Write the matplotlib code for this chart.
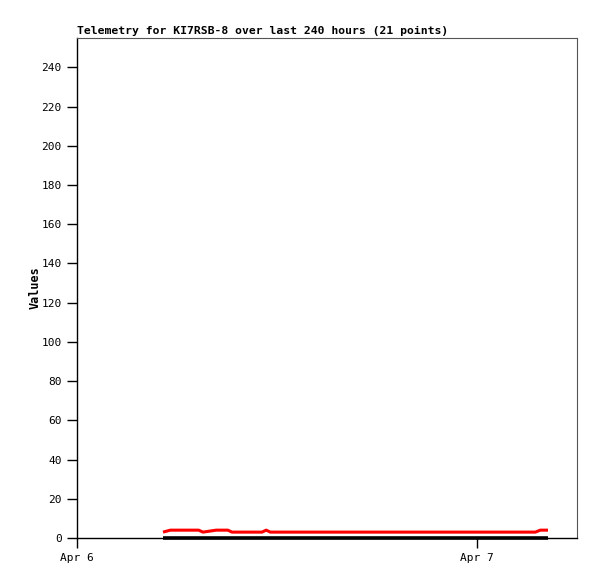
import numpy as np
import matplotlib
matplotlib.use("Agg")
import matplotlib.pyplot as plt
import matplotlib.dates as mdates
from datetime import datetime, timedelta

# hours after Apr 6 00:00 for each telemetry point
hours = [5.16, 5.6, 6.5, 7.3, 7.56, 8.35, 9.05, 9.3, 10.2, 11.1, 11.35,
         11.6, 13.5, 15.5, 17.5, 19.5, 21.5, 23.5, 27.5, 27.8, 28.26]
ch1 = [3, 4, 4, 4, 3, 4, 4, 3, 3, 3, 4, 3, 3, 3, 3, 3, 3, 3, 3, 4, 4]
ch2 = [0] * 21

start = datetime(2024, 4, 6)
times = [start + timedelta(hours=h) for h in hours]

fig = plt.figure(figsize=(5.97, 5.79), dpi=100)
ax = fig.add_axes([77/597, 41/579, 500/597, 500/579])

ax.plot(times, ch2, color="black", lw=2.6, solid_capstyle="butt", clip_on=False, zorder=3)
ax.plot(times, ch1, color="red", lw=2.2, solid_capstyle="butt", zorder=4)

ax.set_xlim(start, start + timedelta(hours=30))
ax.set_ylim(0, 255)
ax.set_yticks(np.arange(0, 241, 20))
ax.set_xticks([start, start + timedelta(hours=24)])
ax.xaxis.set_major_formatter(mdates.DateFormatter("%b %-d"))

font = "DejaVu Sans Mono"
ax.tick_params(axis="both", length=7, width=1, labelsize=8, direction="out", pad=4)
for lab in ax.get_xticklabels() + ax.get_yticklabels():
    lab.set_family(font)

for s in ["top", "right"]:
    ax.spines[s].set_color("#555555")
ax.spines["left"].set_linewidth(1)
ax.spines["bottom"].set_linewidth(1)

ax.set_title("Telemetry for KI7RSB-8 over last 240 hours (21 points)",
             loc="left", fontsize=8.2, fontweight="bold", family=font, pad=3)
ax.set_ylabel("Values", fontsize=8.5, fontweight="bold", family=font, labelpad=0)

fig.savefig("out.png", dpi=100)
